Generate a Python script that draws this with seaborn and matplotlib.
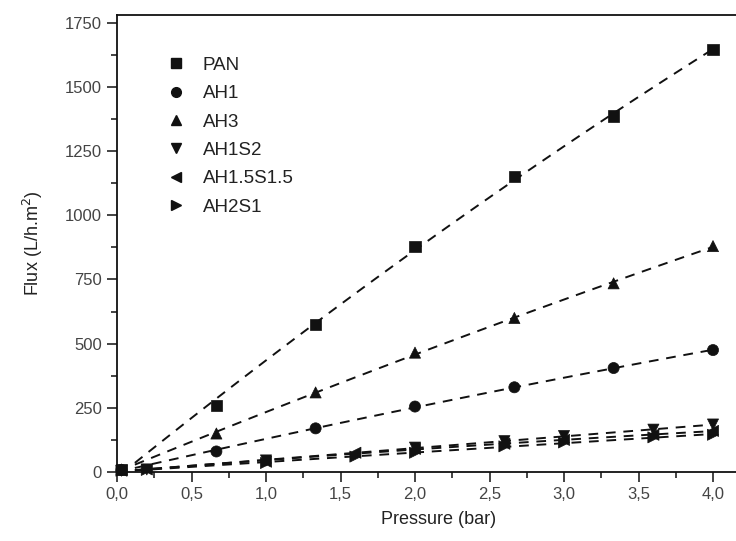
import numpy as np
import pandas as pd
import matplotlib
matplotlib.use("Agg")
import matplotlib.pyplot as plt
from matplotlib.ticker import MultipleLocator, FuncFormatter
from matplotlib.lines import Line2D
import seaborn as sns

sns.set_theme(style="ticks")
plt.rcParams["font.family"] = ["Liberation Sans", "DejaVu Sans"]

# Permeate flux versus transmembrane pressure for each membrane
series_names = ["PAN", "AH1", "AH3", "AH1S2", "AH1.5S1.5", "AH2S1"]
series_markers = ["s", "o", "^", "v", "<", ">"]

pan_x = [0.03, 0.667, 1.333, 2.0, 2.667, 3.333, 4.0]
pan_y = [10, 260, 575, 878, 1150, 1387, 1647]

ah1_x = [0.03, 0.667, 1.333, 2.0, 2.667, 3.333, 4.0]
ah1_y = [8, 80, 170, 255, 330, 405, 475]

ah3_x = [0.03, 0.667, 1.333, 2.0, 2.667, 3.333, 4.0]
ah3_y = [10, 150, 310, 465, 600, 735, 880]

ah1s2_x = [0.03, 0.2, 1.0, 2.0, 2.6, 3.0, 3.6, 4.0]
ah1s2_y = [5, 10, 45, 95, 120, 140, 165, 185]

ah15s15_x = [0.03, 0.2, 1.0, 1.6, 2.0, 2.6, 3.0, 3.6, 4.0]
ah15s15_y = [5, 10, 40, 75, 90, 110, 125, 145, 160]

ah2s1_x = [0.03, 0.2, 1.0, 1.6, 2.0, 2.6, 3.0, 3.6, 4.0]
ah2s1_y = [5, 8, 35, 60, 75, 100, 115, 135, 145]

xs = [pan_x, ah1_x, ah3_x, ah1s2_x, ah15s15_x, ah2s1_x]
ys = [pan_y, ah1_y, ah3_y, ah1s2_y, ah15s15_y, ah2s1_y]

x_ticks = np.arange(0, 4.01, 0.5)
y_ticks = np.arange(0, 1751, 250)

frames = []
for name, x, y in zip(series_names, xs, ys):
    frames.append(pd.DataFrame({"pressure": x, "flux": y, "membrane": name}))
df = pd.concat(frames, ignore_index=True)

fig = plt.figure(figsize=(7.36, 5.41), dpi=100)
ax = fig.add_axes([117 / 736, 1 - 472 / 541, (760 - 117) / 736, (472 - 15) / 541])

ink = "#111111"

# Second-order fits over every measured point, drawn dashed
fit_x = np.linspace(0.12, 4.0, 80)
for name, x, y in zip(series_names, xs, ys):
    coef = np.polyfit(np.asarray(x), np.asarray(y), 2)
    sns.lineplot(x=fit_x, y=np.polyval(coef, fit_x), ax=ax, color=ink, lw=1.4,
                 linestyle=(0, (5, 4)), zorder=2)

# Measured points
marker_map = dict(zip(series_names, series_markers))
sns.scatterplot(data=df, x="pressure", y="flux", style="membrane",
                markers=marker_map, color=ink, s=64, edgecolor=ink,
                linewidth=0.5, ax=ax, legend=False, zorder=3, clip_on=False)

ax.set_xlim(0, (760 - 117) / 149)
ax.set_ylim(0, (472 - 15) / 0.2567)

ax.xaxis.set_minor_locator(MultipleLocator(0.25))
ax.yaxis.set_minor_locator(MultipleLocator(125))
ax.set_xticks(x_ticks)
ax.set_yticks(y_ticks)
ax.xaxis.set_major_formatter(FuncFormatter(lambda v, p: f"{v:.1f}".replace(".", ",")))
ax.yaxis.set_major_formatter(FuncFormatter(lambda v, p: f"{int(round(v))}"))

ax.tick_params(axis="both", which="major", direction="out", length=7, width=1.1,
               labelsize=12, labelcolor="#444444", color=ink, pad=4)
ax.tick_params(axis="both", which="minor", direction="out", length=4, width=1.1,
               color=ink)
ax.tick_params(top=False, right=False, which="both")

for side in ["left", "bottom", "top", "right"]:
    ax.spines[side].set_color(ink)
    ax.spines[side].set_linewidth(1.3)

ax.set_xlabel("Pressure (bar)", fontsize=13, color="#222222", labelpad=6)
ax.set_ylabel("Flux (L/h.m$^2$)", fontsize=13, color="#222222", labelpad=14)

handles = [Line2D([], [], linestyle="none", marker=m, color=ink,
                  markersize=7, markeredgecolor=ink)
           for m in series_markers]
ax.legend(handles, series_names, loc="upper left", frameon=False,
          fontsize=13.5, bbox_to_anchor=(0.066, 0.925), handletextpad=0.9,
          labelspacing=0.6, handlelength=1.0, borderaxespad=0)
for t in ax.get_legend().get_texts():
    t.set_color("#222222")

fig.savefig("out.png", dpi=100)
